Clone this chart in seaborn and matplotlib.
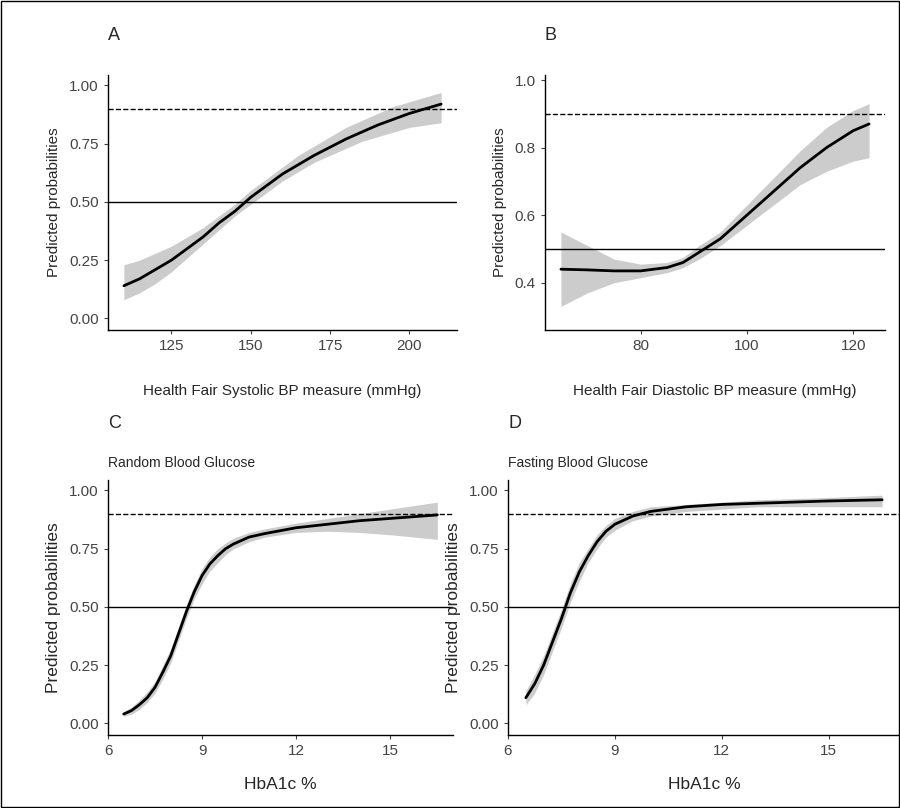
import numpy as np
import matplotlib.pyplot as plt
import seaborn as sns
from matplotlib.patches import Rectangle

# --- panel data ---
sbp_x = [110, 115, 120, 125, 130, 135, 140, 145, 150, 155, 160, 165, 170, 175, 180, 185, 190, 195, 200, 205, 210]
sbp_y = [0.14, 0.17, 0.21, 0.25, 0.30, 0.35, 0.41, 0.46, 0.52, 0.57, 0.62, 0.66, 0.70, 0.735, 0.77, 0.80, 0.83, 0.855, 0.88, 0.90, 0.92]
sbp_lo = [0.08, 0.11, 0.15, 0.20, 0.26, 0.32, 0.38, 0.44, 0.49, 0.54, 0.59, 0.63, 0.67, 0.70, 0.73, 0.76, 0.78, 0.80, 0.82, 0.83, 0.84]
sbp_hi = [0.23, 0.25, 0.28, 0.31, 0.35, 0.39, 0.44, 0.49, 0.55, 0.60, 0.65, 0.70, 0.74, 0.78, 0.82, 0.85, 0.88, 0.91, 0.93, 0.95, 0.97]

dbp_x = [65, 70, 75, 80, 85, 88, 91, 95, 100, 105, 110, 115, 120, 123]
dbp_y = [0.44, 0.438, 0.435, 0.435, 0.445, 0.46, 0.49, 0.53, 0.60, 0.67, 0.74, 0.80, 0.85, 0.87]
dbp_lo = [0.33, 0.37, 0.40, 0.415, 0.43, 0.445, 0.47, 0.51, 0.57, 0.63, 0.69, 0.73, 0.76, 0.77]
dbp_hi = [0.55, 0.51, 0.47, 0.455, 0.46, 0.475, 0.51, 0.55, 0.63, 0.71, 0.79, 0.86, 0.91, 0.93]

rbg_x = [6.5, 6.75, 7.0, 7.25, 7.5, 7.75, 8.0, 8.25, 8.5, 8.75, 9.0, 9.25, 9.5, 9.75, 10.0, 10.5, 11.0, 12.0, 13.0, 14.0, 15.0, 16.5]
rbg_y = [0.04, 0.055, 0.08, 0.11, 0.155, 0.22, 0.29, 0.385, 0.48, 0.565, 0.635, 0.685, 0.72, 0.75, 0.77, 0.80, 0.815, 0.84, 0.855, 0.87, 0.88, 0.895]
rbg_lo = [0.03, 0.04, 0.06, 0.09, 0.13, 0.19, 0.26, 0.355, 0.45, 0.535, 0.60, 0.655, 0.69, 0.725, 0.75, 0.78, 0.80, 0.82, 0.825, 0.82, 0.81, 0.79]
rbg_hi = [0.05, 0.07, 0.10, 0.135, 0.18, 0.25, 0.32, 0.415, 0.51, 0.595, 0.665, 0.715, 0.75, 0.775, 0.795, 0.82, 0.835, 0.86, 0.88, 0.90, 0.92, 0.95]

fbg_x = [6.5, 6.75, 7.0, 7.25, 7.5, 7.75, 8.0, 8.25, 8.5, 8.75, 9.0, 9.5, 10.0, 11.0, 12.0, 13.0, 14.0, 15.0, 16.5]
fbg_y = [0.11, 0.17, 0.25, 0.35, 0.45, 0.56, 0.65, 0.72, 0.78, 0.825, 0.855, 0.89, 0.91, 0.93, 0.94, 0.945, 0.95, 0.955, 0.96]
fbg_lo = [0.08, 0.13, 0.21, 0.31, 0.41, 0.52, 0.61, 0.69, 0.75, 0.80, 0.83, 0.87, 0.89, 0.91, 0.92, 0.93, 0.93, 0.93, 0.93]
fbg_hi = [0.14, 0.21, 0.29, 0.39, 0.49, 0.60, 0.69, 0.75, 0.81, 0.85, 0.88, 0.91, 0.93, 0.94, 0.95, 0.96, 0.965, 0.97, 0.98]

sns.set_style("white")
plt.rcParams['font.family'] = ['Liberation Sans', 'DejaVu Sans']

fig = plt.figure(figsize=(9, 8.08), dpi=100)
W, H = 900, 808
def box(x0, y0, x1, y1):
    return [x0 / W, 1 - y1 / H, (x1 - x0) / W, (y1 - y0) / H]

panels = [
    dict(x=sbp_x, y=sbp_y, lo=sbp_lo, hi=sbp_hi, pos=box(108, 75, 457, 330), letter='A',
         xlabel='Health Fair Systolic BP measure (mmHg)', xlim=(105, 215), xt=[125, 150, 175, 200],
         ylim=(-0.05, 1.045), yt=[0, 0.25, 0.5, 0.75, 1.0], yfmt='%.2f', lab=11, sub=None),
    dict(x=dbp_x, y=dbp_y, lo=dbp_lo, hi=dbp_hi, pos=box(545, 75, 885, 330), letter='B',
         xlabel='Health Fair Diastolic BP measure (mmHg)', xlim=(62, 126), xt=[80, 100, 120],
         ylim=(0.26, 1.015), yt=[0.4, 0.6, 0.8, 1.0], yfmt='%.1f', lab=11, sub=None),
    dict(x=rbg_x, y=rbg_y, lo=rbg_lo, hi=rbg_hi, pos=box(108, 480, 453, 735), letter='C',
         xlabel='HbA1c %', xlim=(6, 17), xt=[6, 9, 12, 15],
         ylim=(-0.05, 1.045), yt=[0, 0.25, 0.5, 0.75, 1.0], yfmt='%.2f', lab=12.5, sub='Random Blood Glucose'),
    dict(x=fbg_x, y=fbg_y, lo=fbg_lo, hi=fbg_hi, pos=box(508, 480, 900, 735), letter='D',
         xlabel='HbA1c %', xlim=(6, 17), xt=[6, 9, 12, 15],
         ylim=(-0.05, 1.045), yt=[0, 0.25, 0.5, 0.75, 1.0], yfmt='%.2f', lab=12.5, sub='Fasting Blood Glucose'),
]

for p in panels:
    ax = fig.add_axes(p['pos'])
    ax.fill_between(p['x'], p['lo'], p['hi'], color='#cccccc', lw=0)
    sns.lineplot(x=p['x'], y=p['y'], ax=ax, color='black', lw=2)
    ax.axhline(0.5, color='black', lw=1)
    ax.axhline(0.9, color='black', lw=1, ls='--')
    ax.set_xlim(p['xlim'])
    ax.set_ylim(p['ylim'])
    ax.set_xticks(p['xt'])
    ax.set_yticks(p['yt'])
    ax.set_yticklabels([p['yfmt'] % v for v in p['yt']])
    ax.tick_params(labelsize=11, colors='#444444', length=3, left=True, bottom=True)
    for s in ['top', 'right']:
        ax.spines[s].set_visible(False)
    for s in ['left', 'bottom']:
        ax.spines[s].set_color('black')
        ax.spines[s].set_linewidth(1)
    ax.set_xlabel(p['xlabel'], fontsize=p['lab'], labelpad=22 if p['lab'] == 11 else 14)
    ax.set_ylabel('Predicted probabilities', fontsize=p['lab'], labelpad=6)
    ax.text(0.0, 1.12 if p['sub'] is None else 1.19, p['letter'], transform=ax.transAxes,
            fontsize=13, ha='left', va='bottom')
    if p['sub']:
        ax.text(0.0, 1.04, p['sub'], transform=ax.transAxes, fontsize=10, ha='left', va='bottom')

fig.patches.append(Rectangle((0.001, 0.001), 0.998, 0.998, transform=fig.transFigure,
                             fill=False, edgecolor='black', lw=1))
plt.savefig('out.png', dpi=100)
